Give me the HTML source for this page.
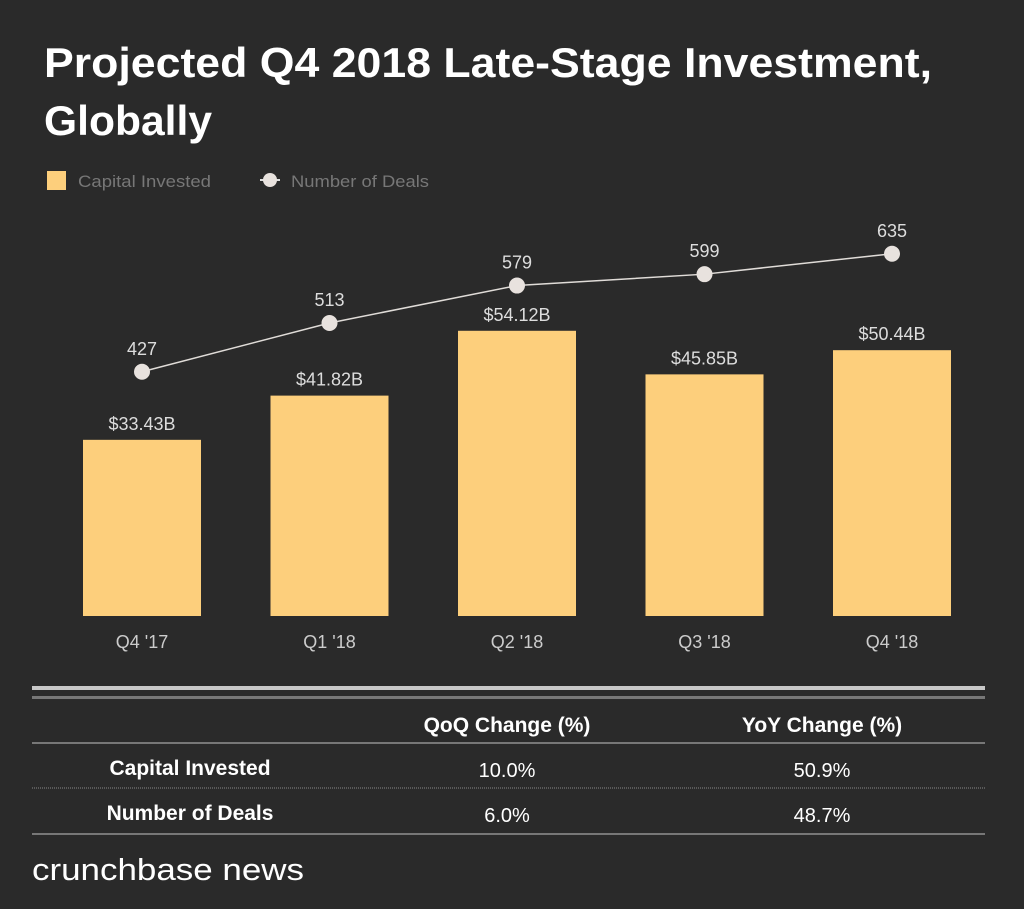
<!DOCTYPE html>
<html><head><meta charset="utf-8"><style>
body{margin:0;width:1024px;height:909px;background:#2a2a2a;overflow:hidden;font-family:"Liberation Sans",sans-serif;}
</style></head><body>
<svg width="1024" height="909" style="position:absolute;left:0;top:0">
<text x="44" y="77" fill="#fff" font-size="42" font-weight="bold" textLength="888" lengthAdjust="spacingAndGlyphs">Projected Q4 2018 Late-Stage Investment,</text>
<text x="44" y="135" fill="#fff" font-size="42" font-weight="bold" textLength="168" lengthAdjust="spacingAndGlyphs">Globally</text>
<g>
<rect x="47" y="171" width="19" height="19" fill="#fdcf7c"/>
<text x="78" y="187" fill="#777" font-size="17" textLength="133" lengthAdjust="spacingAndGlyphs">Capital Invested</text></g>
<g>
<line x1="260" y1="180" x2="280" y2="180" stroke="#ddd" stroke-width="2"/>
<circle cx="270" cy="180" r="7" fill="#e8e2de"/>
<text x="291" y="187" fill="#777" font-size="17" textLength="138" lengthAdjust="spacingAndGlyphs">Number of Deals</text></g>
<g id="plot"></g>
<g>
<rect x="32" y="686" width="953" height="4" fill="#c8c8c8"/>
<rect x="32" y="696" width="953" height="3" fill="#777"/>
<text x="507" y="732" text-anchor="middle" fill="#fff" font-size="21" font-weight="bold">QoQ Change (%)</text>
<text x="822" y="732" text-anchor="middle" fill="#fff" font-size="21" font-weight="bold">YoY Change (%)</text>
<rect x="32" y="742" width="953" height="2" fill="#777"/>
<text x="190" y="775" text-anchor="middle" fill="#fff" font-size="21" font-weight="bold">Capital Invested</text>
<text x="507" y="777" text-anchor="middle" fill="#fff" font-size="20">10.0%</text>
<text x="822" y="777" text-anchor="middle" fill="#fff" font-size="20">50.9%</text>
<line x1="32" y1="788" x2="985" y2="788" stroke="#888" stroke-width="1" stroke-dasharray="1,1"/>
<text x="190" y="820" text-anchor="middle" fill="#fff" font-size="21" font-weight="bold">Number of Deals</text>
<text x="507" y="822" text-anchor="middle" fill="#fff" font-size="20">6.0%</text>
<text x="822" y="822" text-anchor="middle" fill="#fff" font-size="20">48.7%</text>
<rect x="32" y="833" width="953" height="2" fill="#777"/>
</g>
<text x="32" y="880" fill="#fff" font-size="31" textLength="272" lengthAdjust="spacingAndGlyphs">crunchbase news</text>
</svg>
<script>
const categories=["Q4 '17","Q1 '18","Q2 '18","Q3 '18","Q4 '18"];
const capital=[33.43,41.82,54.12,45.85,50.44];
const deals=[427,513,579,599,635];
const ns="http://www.w3.org/2000/svg";
const g=document.getElementById('plot');
const cx=i=>142+i*187.5;
const yCap=v=>616-v*5.27;
const yDeal=v=>614-v*0.5673;
function mk(t,a){const e=document.createElementNS(ns,t);for(const k in a)e.setAttribute(k,a[k]);g.appendChild(e);return e;}
categories.forEach((c,i)=>{
 const b=mk('rect',{x:cx(i)-59,y:yCap(capital[i]),width:118,height:616-yCap(capital[i]),fill:'#fdcf7c'});
 
 
 const l=mk('text',{x:cx(i),y:yCap(capital[i])-10,'text-anchor':'middle',fill:'#ddd','font-size':18});
 l.textContent='$'+capital[i].toFixed(2)+'B';
 
 
 const x=mk('text',{x:cx(i),y:648,'text-anchor':'middle',fill:'#ccc','font-size':18});
 x.textContent=c;
 
 
});
const pl=mk('polyline',{points:deals.map((d,i)=>cx(i)+','+yDeal(d)).join(' '),fill:'none',stroke:'#e0dcd8','stroke-width':1.5});


deals.forEach((d,i)=>{
 const p=mk('circle',{cx:cx(i),cy:yDeal(d),r:8,fill:'#e8e2de'});
 
 
 const t=mk('text',{x:cx(i),y:yDeal(d)-17,'text-anchor':'middle',fill:'#ddd','font-size':18});
 t.textContent=d;
 
 
});
</script>
</body></html>
